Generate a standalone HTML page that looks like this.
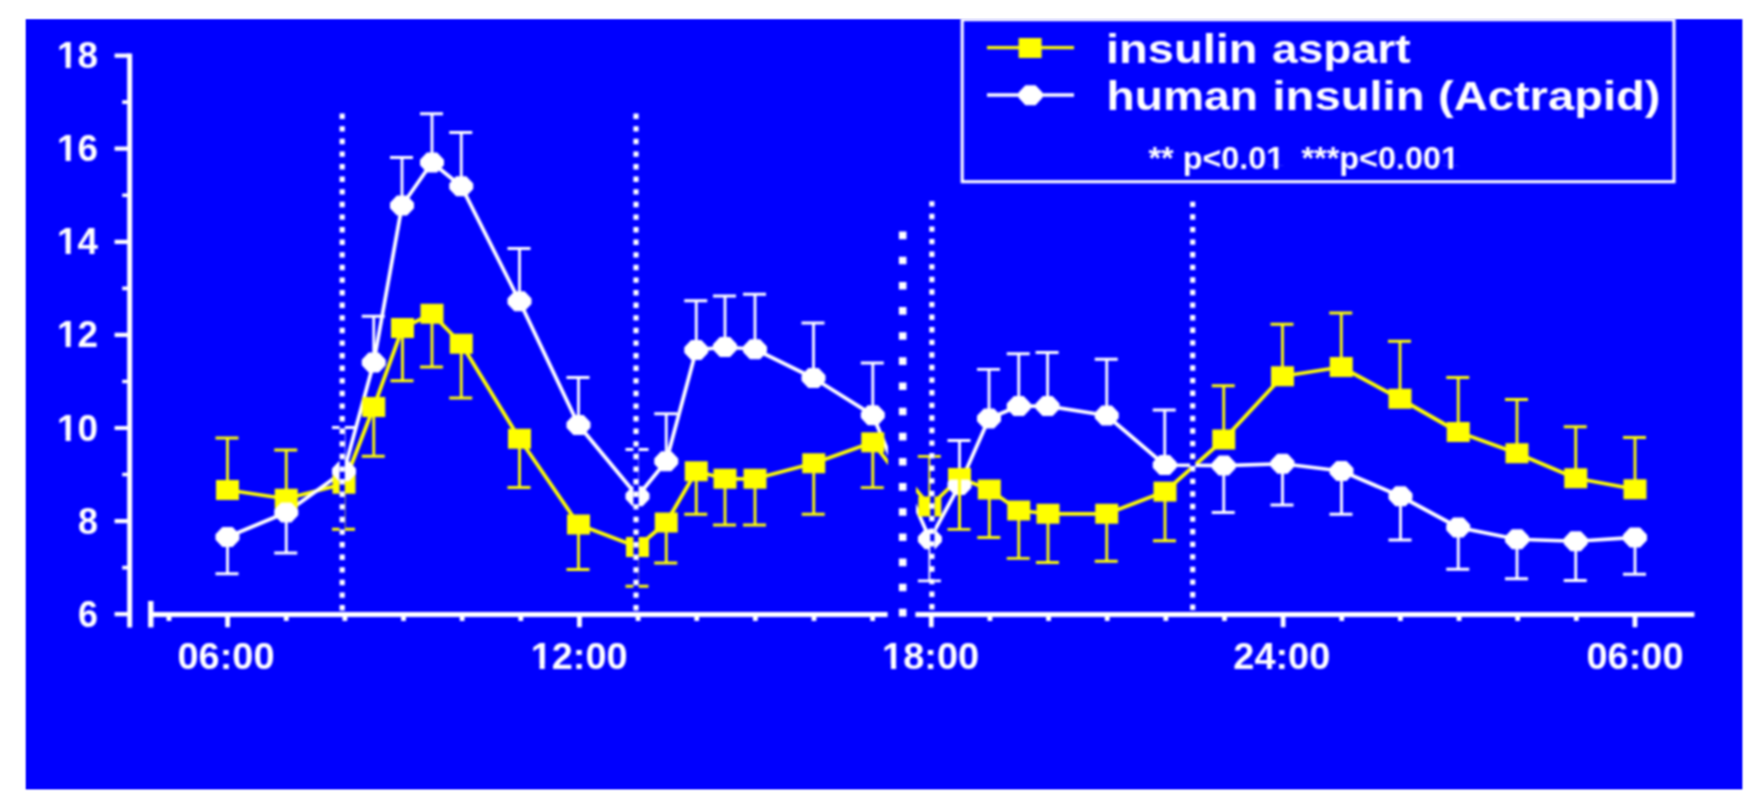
<!DOCTYPE html>
<html lang="en"><head><meta charset="utf-8"><title>Insulin aspart vs human insulin</title>
<style>html,body{margin:0;padding:0;background:#fff;overflow:hidden}svg{display:block}</style></head>
<body>
<svg width="1764" height="807" viewBox="0 0 1764 807">
<defs><filter id="soft" x="-2%" y="-2%" width="104%" height="104%" color-interpolation-filters="sRGB"><feGaussianBlur stdDeviation="1"/></filter><filter id="softt" x="-2%" y="-2%" width="104%" height="104%" color-interpolation-filters="sRGB"><feConvolveMatrix order="3" kernelMatrix="1 2 1 2 4 2 1 2 1" divisor="16" edgeMode="none" preserveAlpha="false"/></filter><clipPath id="c1"><rect x="140" y="60" width="748" height="560"/></clipPath><clipPath id="c2"><rect x="916" y="60" width="800" height="560"/></clipPath></defs>
<rect x="0" y="0" width="1764" height="807" fill="#fff"/>
<rect x="25.7" y="19.2" width="1716.7" height="770.2" fill="#0000ff" filter="url(#softt)"/>
<g filter="url(#soft)">
<g clip-path="url(#c1)">
<path d="M227.5 490V438M215.5 438H238.5M286.25 498.75V450M274.25 450H297.25M344 483.75V529.25M332 529.25H355M373.75 407V456.25M361.75 456.25H384.75M402.5 328V380.75M390.5 380.75H413.5M432 313.75V367M420 367H443M461.25 343.75V398M449.25 398H472.25M519.5 438.75V487.5M507.5 487.5H530.5M578.5 524.5V569.5M566.5 569.5H589.5M637.5 547V586.25M625.5 586.25H648.5M666.25 522.5V563M654.25 563H677.25M696.25 471.25V514.25M684.25 514.25H707.25M725 478.75V525M713 525H736M755 478.75V525M743 525H766M813.75 463.25V514.25M801.75 514.25H824.75M872.8 442.3V487.6M860.8 487.6H883.8" stroke="#ffff00" stroke-width="2.8" fill="none"/>
<path d="M227.5 537V573.75M215.5 573.75H238.5M286.25 512.5V553M274.25 553H297.25M344 471.25V427.5M332 427.5H355M373.75 362.5V316.25M361.75 316.25H384.75M402 205.5V157.5M390 157.5H413M432 162.5V113.75M420 113.75H443M461.25 186.25V132.5M449.25 132.5H472.25M519.5 301.25V248.5M507.5 248.5H530.5M578.5 425V377.5M566.5 377.5H589.5M637.5 496.25V449.5M625.5 449.5H648.5M666.25 461.25V413.75M654.25 413.75H677.25M696.25 350V300.75M684.25 300.75H707.25M725 347V296M713 296H736M755 349.25V294.25M743 294.25H766M813.5 378V323M801.5 323H824.5M872.8 415.2V363M860.8 363H883.8" stroke="#ffffff" stroke-width="2.8" fill="none"/>
<polyline points="227.5,490 286.25,498.75 344,483.75 373.75,407 402.5,328 432,313.75 461.25,343.75 519.5,438.75 578.5,524.5 637.5,547 666.25,522.5 696.25,471.25 725,478.75 755,478.75 813.75,463.25 872.8,442.3 900,478" stroke="#ffff00" stroke-width="3.75" fill="none" stroke-linejoin="round"/>
<polyline points="227.5,537 286.25,512.5 344,471.25 373.75,362.5 402,205.5 432,162.5 461.25,186.25 519.5,301.25 578.5,425 637.5,496.25 666.25,461.25 696.25,350 725,347 755,349.25 813.5,378 872.8,415.2 900,480" stroke="#ffffff" stroke-width="3.75" fill="none" stroke-linejoin="round"/>
</g>
<g clip-path="url(#c2)">
<path d="M929.8 506.5V456.3M917.8 456.3H940.8M959.5 478V529.4M947.5 529.4H970.5M989.3 489.5V537.5M977.3 537.5H1000.3M1018.75 510.5V558.3M1006.75 558.3H1029.75M1048 513.75V562.5M1036 562.5H1059M1106.75 513.75V561.25M1094.75 561.25H1117.75M1165 491.6V540.75M1153 540.75H1176M1223.75 439.5V385.75M1211.75 385.75H1234.75M1282.5 376.25V324.25M1270.5 324.25H1293.5M1341.25 367V313M1329.25 313H1352.25M1400 398.75V341.25M1388 341.25H1411M1458.25 432V377.5M1446.25 377.5H1469.25M1517 453.25V399.5M1505 399.5H1528M1575.75 478.25V426.75M1563.75 426.75H1586.75M1635 489.25V437.5M1623 437.5H1646" stroke="#ffff00" stroke-width="2.8" fill="none"/>
<path d="M929.9 539.2V580.8M917.9 580.8H940.9M959.5 485V440.5M947.5 440.5H970.5M989 418.5V369.4M977 369.4H1000M1018.75 406.1V353.75M1006.75 353.75H1029.75M1047.6 406.1V352.5M1035.6 352.5H1058.6M1106.75 415.5V359.25M1094.75 359.25H1117.75M1164.75 465V410M1152.75 410H1175.75M1223.75 465.6V512.5M1211.75 512.5H1234.75M1282.5 463.75V505M1270.5 505H1293.5M1341.5 471V514.25M1329.5 514.25H1352.5M1400.5 496.25V540M1388.5 540H1411.5M1458.25 527.5V569.25M1446.25 569.25H1469.25M1517 539.25V578.75M1505 578.75H1528M1575.75 541.25V580.5M1563.75 580.5H1586.75M1635 537.5V574.25M1623 574.25H1646" stroke="#ffffff" stroke-width="2.8" fill="none"/>
<polyline points="905,476 929.8,506.5 959.5,478 989.3,489.5 1018.75,510.5 1048,513.75 1106.75,513.75 1165,491.6 1223.75,439.5 1282.5,376.25 1341.25,367 1400,398.75 1458.25,432 1517,453.25 1575.75,478.25 1635,489.25" stroke="#ffff00" stroke-width="3.75" fill="none" stroke-linejoin="round"/>
<polyline points="905,483 929.9,539.2 959.5,485 989,418.5 1018.75,406.1 1047.6,406.1 1106.75,415.5 1164.75,465 1223.75,465.6 1282.5,463.75 1341.5,471 1400.5,496.25 1458.25,527.5 1517,539.25 1575.75,541.25 1635,537.5" stroke="#ffffff" stroke-width="3.75" fill="none" stroke-linejoin="round"/>
</g>
<g fill="#ffff00"><rect x="216" y="480" width="23" height="20"/><rect x="274.75" y="488.75" width="23" height="20"/><rect x="332.5" y="473.75" width="23" height="20"/><rect x="362.25" y="397" width="23" height="20"/><rect x="391" y="318" width="23" height="20"/><rect x="420.5" y="303.75" width="23" height="20"/><rect x="449.75" y="333.75" width="23" height="20"/><rect x="508" y="428.75" width="23" height="20"/><rect x="567" y="514.5" width="23" height="20"/><rect x="626" y="537" width="23" height="20"/><rect x="654.75" y="512.5" width="23" height="20"/><rect x="684.75" y="461.25" width="23" height="20"/><rect x="713.5" y="468.75" width="23" height="20"/><rect x="743.5" y="468.75" width="23" height="20"/><rect x="802.25" y="453.25" width="23" height="20"/><rect x="861.3" y="432.3" width="23" height="20"/><rect x="918.3" y="496.5" width="23" height="20"/><rect x="948" y="468" width="23" height="20"/><rect x="977.8" y="479.5" width="23" height="20"/><rect x="1007.25" y="500.5" width="23" height="20"/><rect x="1036.5" y="503.75" width="23" height="20"/><rect x="1095.25" y="503.75" width="23" height="20"/><rect x="1153.5" y="481.6" width="23" height="20"/><rect x="1212.25" y="429.5" width="23" height="20"/><rect x="1271" y="366.25" width="23" height="20"/><rect x="1329.75" y="357" width="23" height="20"/><rect x="1388.5" y="388.75" width="23" height="20"/><rect x="1446.75" y="422" width="23" height="20"/><rect x="1505.5" y="443.25" width="23" height="20"/><rect x="1564.25" y="468.25" width="23" height="20"/><rect x="1623.5" y="479.25" width="23" height="20"/></g>
<g fill="#ffffff" stroke="#ffffff" stroke-width="2" stroke-linejoin="round"><path d="M216.5 534.8l6.4 -6.8h9.2l6.4 6.8v4.4l-6.4 6.8h-9.2l-6.4 -6.8z"/><path d="M275.25 510.3l6.4 -6.8h9.2l6.4 6.8v4.4l-6.4 6.8h-9.2l-6.4 -6.8z"/><path d="M333 469.05l6.4 -6.8h9.2l6.4 6.8v4.4l-6.4 6.8h-9.2l-6.4 -6.8z"/><path d="M362.75 360.3l6.4 -6.8h9.2l6.4 6.8v4.4l-6.4 6.8h-9.2l-6.4 -6.8z"/><path d="M391 203.3l6.4 -6.8h9.2l6.4 6.8v4.4l-6.4 6.8h-9.2l-6.4 -6.8z"/><path d="M421 160.3l6.4 -6.8h9.2l6.4 6.8v4.4l-6.4 6.8h-9.2l-6.4 -6.8z"/><path d="M450.25 184.05l6.4 -6.8h9.2l6.4 6.8v4.4l-6.4 6.8h-9.2l-6.4 -6.8z"/><path d="M508.5 299.05l6.4 -6.8h9.2l6.4 6.8v4.4l-6.4 6.8h-9.2l-6.4 -6.8z"/><path d="M567.5 422.8l6.4 -6.8h9.2l6.4 6.8v4.4l-6.4 6.8h-9.2l-6.4 -6.8z"/><path d="M626.5 494.05l6.4 -6.8h9.2l6.4 6.8v4.4l-6.4 6.8h-9.2l-6.4 -6.8z"/><path d="M655.25 459.05l6.4 -6.8h9.2l6.4 6.8v4.4l-6.4 6.8h-9.2l-6.4 -6.8z"/><path d="M685.25 347.8l6.4 -6.8h9.2l6.4 6.8v4.4l-6.4 6.8h-9.2l-6.4 -6.8z"/><path d="M714 344.8l6.4 -6.8h9.2l6.4 6.8v4.4l-6.4 6.8h-9.2l-6.4 -6.8z"/><path d="M744 347.05l6.4 -6.8h9.2l6.4 6.8v4.4l-6.4 6.8h-9.2l-6.4 -6.8z"/><path d="M802.5 375.8l6.4 -6.8h9.2l6.4 6.8v4.4l-6.4 6.8h-9.2l-6.4 -6.8z"/><path d="M861.8 413l6.4 -6.8h9.2l6.4 6.8v4.4l-6.4 6.8h-9.2l-6.4 -6.8z"/><path d="M918.9 537l6.4 -6.8h9.2l6.4 6.8v4.4l-6.4 6.8h-9.2l-6.4 -6.8z"/><path d="M948.5 482.8l6.4 -6.8h9.2l6.4 6.8v4.4l-6.4 6.8h-9.2l-6.4 -6.8z"/><path d="M978 416.3l6.4 -6.8h9.2l6.4 6.8v4.4l-6.4 6.8h-9.2l-6.4 -6.8z"/><path d="M1007.75 403.9l6.4 -6.8h9.2l6.4 6.8v4.4l-6.4 6.8h-9.2l-6.4 -6.8z"/><path d="M1036.6 403.9l6.4 -6.8h9.2l6.4 6.8v4.4l-6.4 6.8h-9.2l-6.4 -6.8z"/><path d="M1095.75 413.3l6.4 -6.8h9.2l6.4 6.8v4.4l-6.4 6.8h-9.2l-6.4 -6.8z"/><path d="M1153.75 462.8l6.4 -6.8h9.2l6.4 6.8v4.4l-6.4 6.8h-9.2l-6.4 -6.8z"/><path d="M1212.75 463.4l6.4 -6.8h9.2l6.4 6.8v4.4l-6.4 6.8h-9.2l-6.4 -6.8z"/><path d="M1271.5 461.55l6.4 -6.8h9.2l6.4 6.8v4.4l-6.4 6.8h-9.2l-6.4 -6.8z"/><path d="M1330.5 468.8l6.4 -6.8h9.2l6.4 6.8v4.4l-6.4 6.8h-9.2l-6.4 -6.8z"/><path d="M1389.5 494.05l6.4 -6.8h9.2l6.4 6.8v4.4l-6.4 6.8h-9.2l-6.4 -6.8z"/><path d="M1447.25 525.3l6.4 -6.8h9.2l6.4 6.8v4.4l-6.4 6.8h-9.2l-6.4 -6.8z"/><path d="M1506 537.05l6.4 -6.8h9.2l6.4 6.8v4.4l-6.4 6.8h-9.2l-6.4 -6.8z"/><path d="M1564.75 539.05l6.4 -6.8h9.2l6.4 6.8v4.4l-6.4 6.8h-9.2l-6.4 -6.8z"/><path d="M1624 535.3l6.4 -6.8h9.2l6.4 6.8v4.4l-6.4 6.8h-9.2l-6.4 -6.8z"/></g>
<rect x="948" y="468" width="23" height="11.5" fill="#ffff00"/><path d="M959.5 479V529" stroke="#ffff00" stroke-width="2.8"/>
<path d="M342.2 113.6V616" stroke="#0000ff" stroke-width="5.2" fill="none"/><path d="M342.2 113.6V616" stroke="#ffffff" stroke-width="5.2" stroke-dasharray="5.4 7.2" fill="none"/>
<path d="M636 113.6V616" stroke="#0000ff" stroke-width="5.2" fill="none"/><path d="M636 113.6V616" stroke="#ffffff" stroke-width="5.2" stroke-dasharray="5.4 7.2" fill="none"/>
<path d="M932.4 201.2V616" stroke="#0000ff" stroke-width="4.2" fill="none"/><path d="M931.9 201.2V616" stroke="#ffffff" stroke-width="5.2" stroke-dasharray="5.4 7.19" fill="none"/>
<path d="M1192.7 201.7V616" stroke="#0000ff" stroke-width="5.2" fill="none"/><path d="M1192.7 201.7V616" stroke="#ffffff" stroke-width="5.2" stroke-dasharray="5.4 7.19" fill="none"/>
<path d="M902.7 231.6V617" stroke="#ffffff" stroke-width="7.6" stroke-dasharray="7.6 17.55" fill="none"/>
<g stroke="#ffffff" fill="none">
<path d="M129.65 53.5V627.4" stroke-width="5"/>
<path d="M114.6 55.6H129.6M114.6 148.7H129.6M114.6 241.8H129.6M114.6 334.9H129.6M114.6 428H129.6M114.6 521.1H129.6M114.6 614.2H129.6" stroke-width="4.2"/>
<path d="M122.2 102.15H129.6M122.2 195.25H129.6M122.2 288.35H129.6M122.2 381.45H129.6M122.2 474.55H129.6M122.2 567.65H129.6" stroke-width="3.6"/>
<path d="M150.8 614.6H887.6M915.4 614.6H1694.4" stroke-width="5"/>
<path d="M150.8 601V627.4" stroke-width="5.4"/>
<path d="M168.96 614V621M227.6 614V627.2M286.24 614V621M344.88 614V621M403.52 614V621M462.16 614V621M520.8 614V621M579.44 614V627.2M638.08 614V621M696.72 614V621M755.36 614V621M814 614V621M872.64 614V621M931.28 614V627.2M989.92 614V621M1048.56 614V621M1107.2 614V621M1165.84 614V621M1224.48 614V621M1283.12 614V627.2M1341.76 614V621M1400.4 614V621M1459.04 614V621M1517.68 614V621M1576.32 614V621M1634.96 614V627.2" stroke-width="4.8"/>
</g>
<rect x="962.2" y="19.6" width="711.8" height="162.1" fill="none" stroke="#ffffff" stroke-width="3.1"/>
<path d="M987 47.6H1074" stroke="#ffff00" stroke-width="3.2"/><rect x="1018.6" y="38" width="23" height="20" fill="#ffff00"/>
<path d="M987 95H1074" stroke="#ffffff" stroke-width="3.4"/><g fill="#ffffff" stroke="#ffffff" stroke-width="2" stroke-linejoin="round"><path d="M1019.5 93l6.4 -6.8h9.2l6.4 6.8v4.4l-6.4 6.8h-9.2l-6.4 -6.8z"/></g>
</g>
<g filter="url(#soft)" fill="#ffffff" font-family="'Liberation Sans', sans-serif" font-weight="bold">
<text x="1106" y="62.9" font-size="40.2" textLength="151.5" lengthAdjust="spacingAndGlyphs">insulin</text>
<text x="1272" y="62.9" font-size="40.2" textLength="138.5" lengthAdjust="spacingAndGlyphs">aspart</text>
<text x="1106.5" y="110.2" font-size="40.2" textLength="151.5" lengthAdjust="spacingAndGlyphs">human</text>
<text x="1272.5" y="110.2" font-size="40.2" textLength="152" lengthAdjust="spacingAndGlyphs">insulin</text>
<text x="1438" y="110.2" font-size="40.2" textLength="222.5" lengthAdjust="spacingAndGlyphs">(Actrapid)</text>
<text x="1148.5" y="169.3" font-size="30.6" textLength="135.8" lengthAdjust="spacingAndGlyphs">** p&lt;0.01</text>
<text x="1301.5" y="169.3" font-size="30.6" textLength="157.5" lengthAdjust="spacingAndGlyphs">***p&lt;0.001</text>
<text x="98" y="68.1" font-size="36.4" text-anchor="end" textLength="41" lengthAdjust="spacingAndGlyphs">18</text>
<text x="98" y="161.2" font-size="36.4" text-anchor="end" textLength="41" lengthAdjust="spacingAndGlyphs">16</text>
<text x="98" y="254.3" font-size="36.4" text-anchor="end" textLength="41" lengthAdjust="spacingAndGlyphs">14</text>
<text x="98" y="347.4" font-size="36.4" text-anchor="end" textLength="41" lengthAdjust="spacingAndGlyphs">12</text>
<text x="98" y="440.5" font-size="36.4" text-anchor="end" textLength="41" lengthAdjust="spacingAndGlyphs">10</text>
<text x="98" y="533.6" font-size="36.4" text-anchor="end" textLength="20" lengthAdjust="spacingAndGlyphs">8</text>
<text x="98" y="626.7" font-size="36.4" text-anchor="end" textLength="20" lengthAdjust="spacingAndGlyphs">6</text>
<text x="177.5" y="668.8" font-size="36.4" textLength="97" lengthAdjust="spacingAndGlyphs">06:00</text>
<text x="530.7" y="668.8" font-size="36.4" textLength="97" lengthAdjust="spacingAndGlyphs">12:00</text>
<text x="882.1" y="668.8" font-size="36.4" textLength="97" lengthAdjust="spacingAndGlyphs">18:00</text>
<text x="1233.3" y="668.8" font-size="36.4" textLength="97" lengthAdjust="spacingAndGlyphs">24:00</text>
<text x="1586.5" y="668.8" font-size="36.4" textLength="97" lengthAdjust="spacingAndGlyphs">06:00</text>
<path d="M1267.7 165.38h6.15v5.12h-6.15zM1278.29 165.38h5.74v5.12h-5.74zM1442.39 165.38h6.15v5.12h-6.15zM1452.99 165.38h5.74v5.12h-5.74zM58.6 63.59h7v5.71h-7zM70.67 63.59h6.54v5.71h-6.54zM58.6 156.69h7v5.71h-7zM70.67 156.69h6.54v5.71h-6.54zM58.6 249.79h7v5.71h-7zM70.67 249.79h6.54v5.71h-6.54zM58.6 342.89h7v5.71h-7zM70.67 342.89h6.54v5.71h-6.54zM58.6 435.99h7v5.71h-7zM70.67 435.99h6.54v5.71h-6.54zM532.35 664.29h7.21v5.71h-7.21zM544.76 664.29h6.73v5.71h-6.73zM883.75 664.29h7.21v5.71h-7.21zM896.16 664.29h6.73v5.71h-6.73z" fill="#0000ff"/>
</g>
</svg>
</body></html>
